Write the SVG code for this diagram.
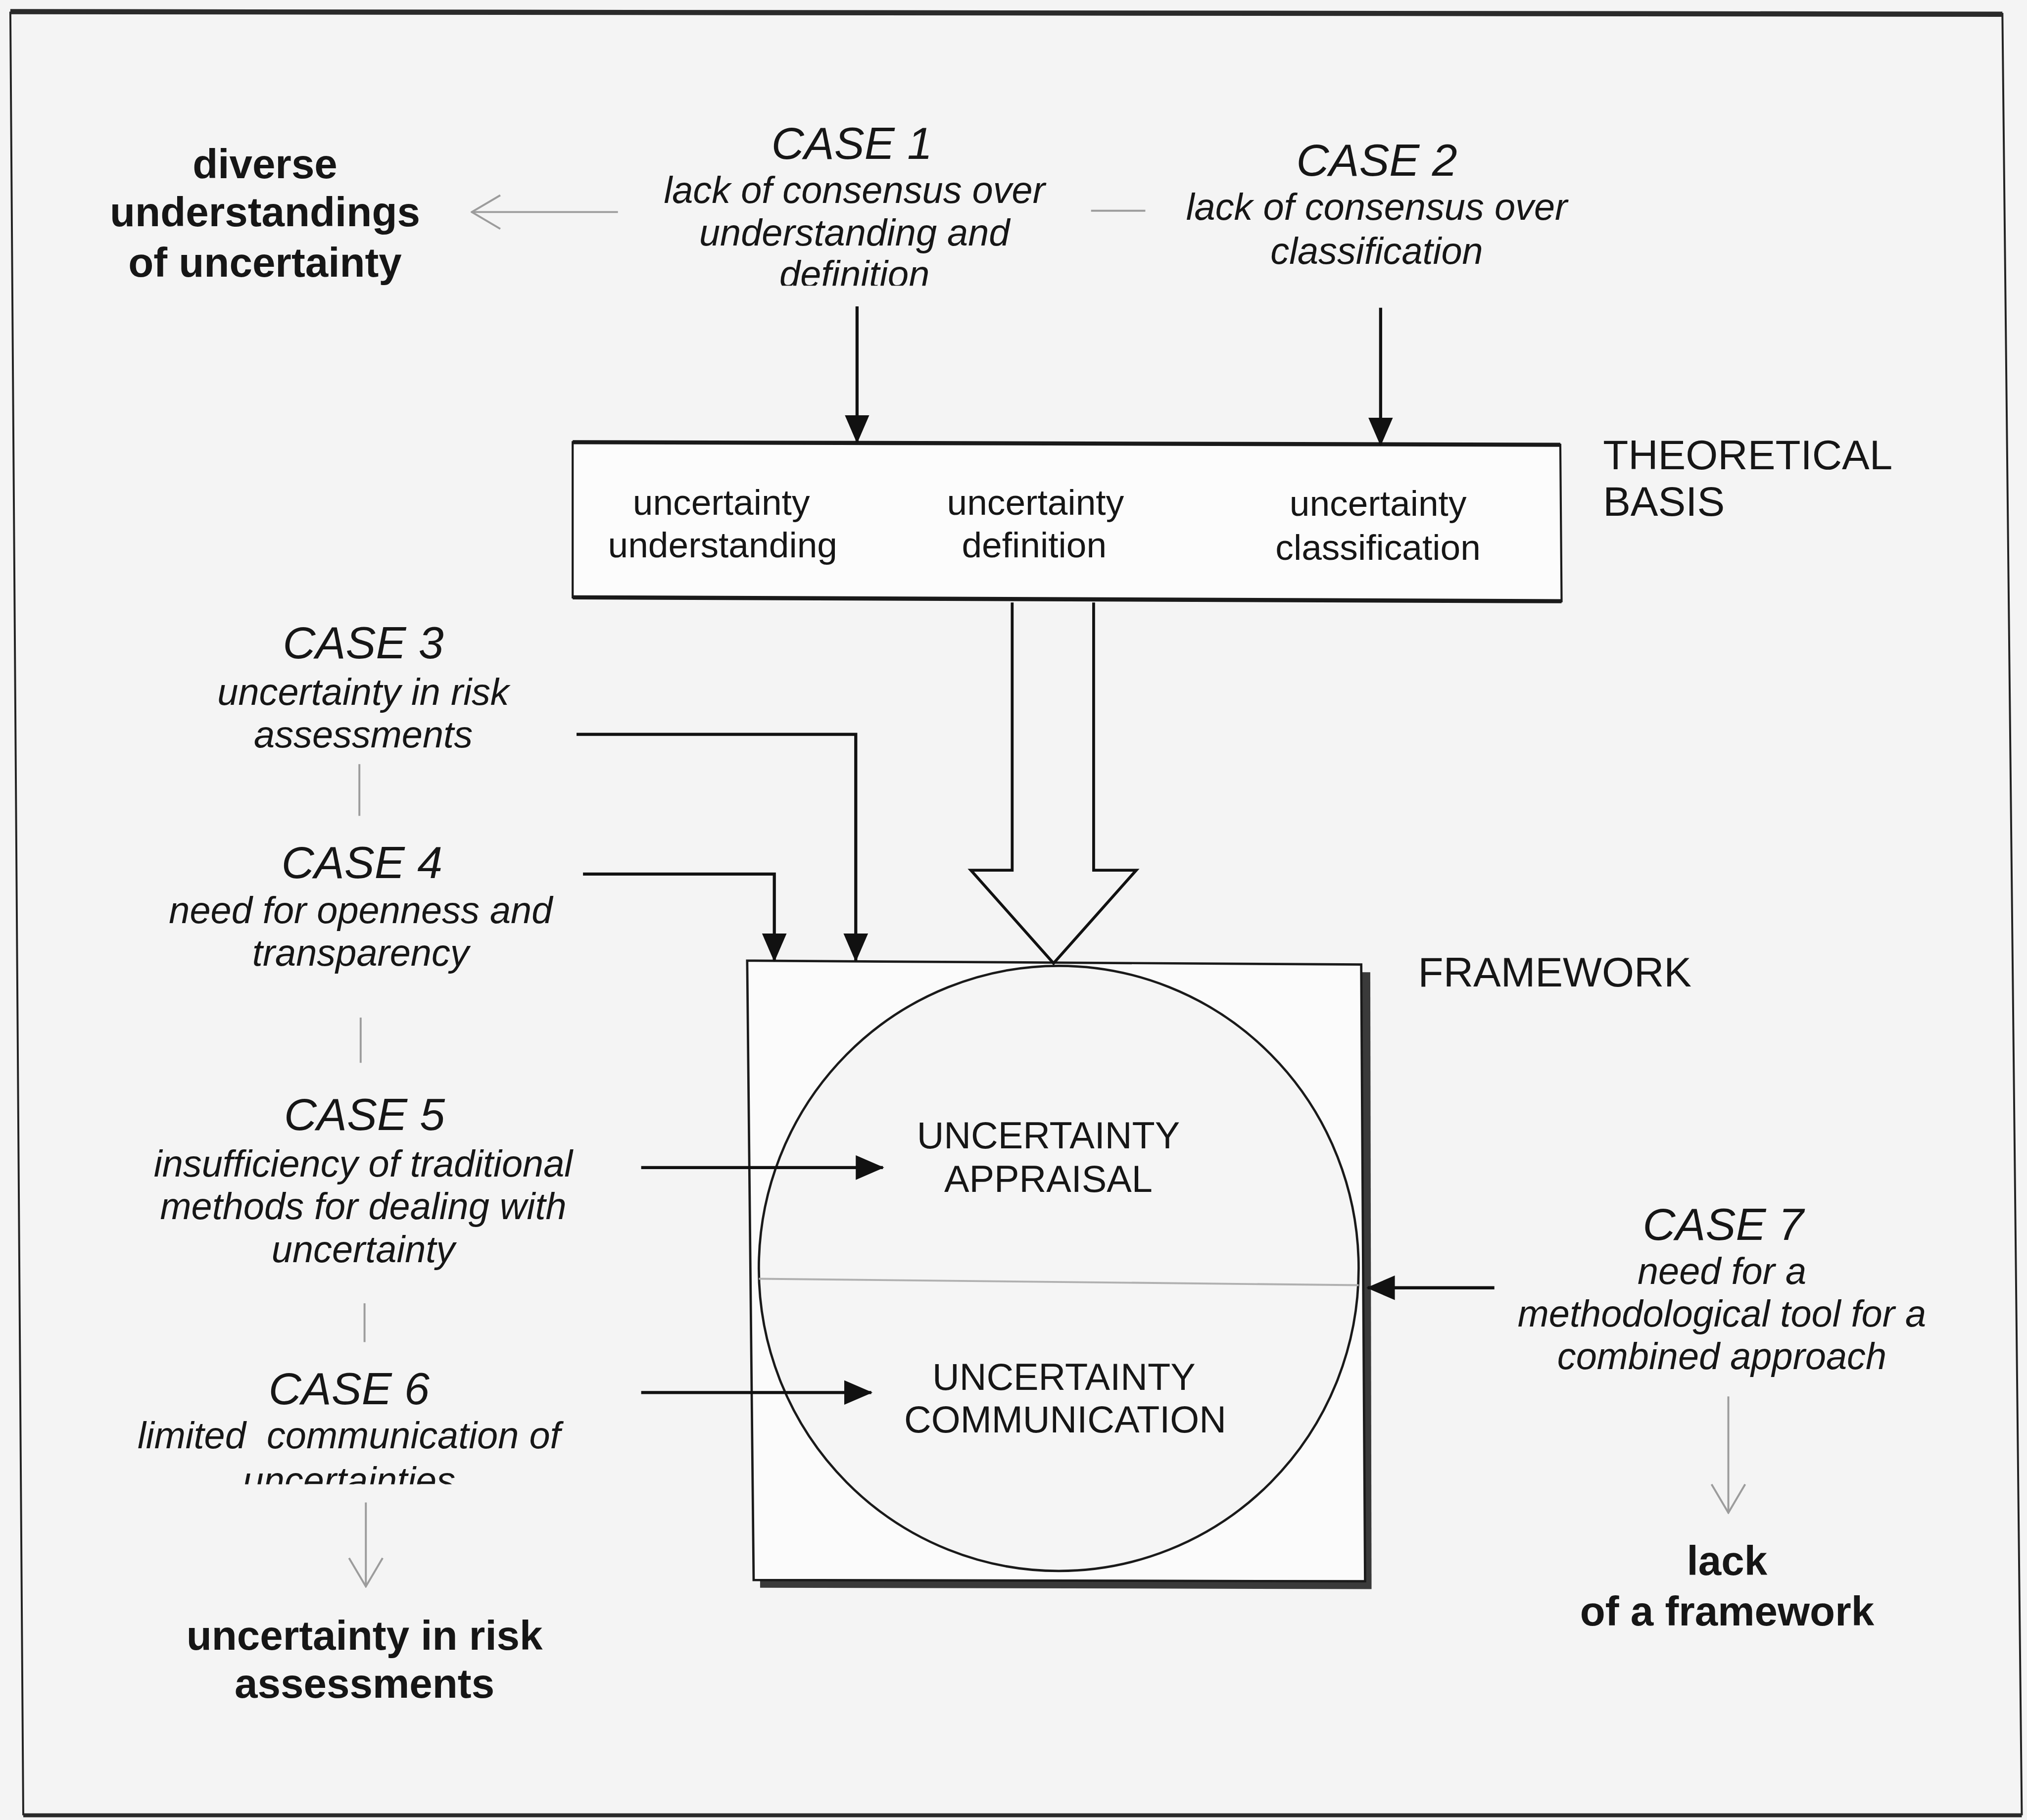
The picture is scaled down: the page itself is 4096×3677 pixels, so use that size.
<svg xmlns="http://www.w3.org/2000/svg" width="4096" height="3677" viewBox="0 0 4096 3677">
  <style>
    text { font-family: "Liberation Sans", Arial, sans-serif; fill: #161616; text-anchor: middle; }
    .case { font-style: italic; font-size: 35px; }
    .desc { font-style: italic; font-size: 29px; }
    .out { font-weight: bold; font-size: 32px; }
    .box { font-size: 28px; }
    .lbl { font-size: 32px; text-anchor: start; }
    .core { font-size: 29px; }
    .wire { stroke: #111; stroke-width: 2.4; fill: none; }
    .faint { stroke: #9c9c9c; stroke-width: 1.5; fill: none; }
  </style>
  <defs>
    <marker id="head" markerUnits="userSpaceOnUse" viewBox="0 0 22 19" refX="21" refY="9.5" markerWidth="22" markerHeight="19" orient="auto">
      <path d="M0,0 L22,9.5 L0,19 Z" fill="#111"/>
    </marker>
    <marker id="open" markerUnits="userSpaceOnUse" viewBox="0 0 24 28" refX="23" refY="14" markerWidth="24" markerHeight="28" orient="auto">
      <path d="M1,1 L23,14 L1,27" fill="none" stroke="#9c9c9c" stroke-width="1.5"/>
    </marker>
    <clipPath id="cut-case1"><rect x="400" y="100" width="520" height="121"/></clipPath>
    <clipPath id="cut-case6"><rect x="40" y="1040" width="480" height="108"/></clipPath>
  </defs>

  <rect x="0" y="0" width="4096" height="3677" fill="#f4f4f4"/>

  <g transform="scale(2.6122)">
    <!-- outer frame -->
    <g id="frame">
      <path d="M8,9 L18,1404 M1549,10 L1564,1404" stroke="#222" stroke-width="1.5" fill="none"/>
      <path d="M8,9 L1549,11" stroke="#2a2a2a" stroke-width="4" fill="none"/>
      <path d="M18,1404 L1564,1404" stroke="#2a2a2a" stroke-width="3" fill="none"/>
    </g>

    <!-- outcome labels -->
    <g id="out-diverse">
      <text class="out" x="205" y="138">diverse</text>
      <text class="out" x="205" y="175">understandings</text>
      <text class="out" x="205" y="214">of uncertainty</text>
    </g>
    <g id="out-risk">
      <text class="out" x="282" y="1276">uncertainty in risk</text>
      <text class="out" x="282" y="1313">assessments</text>
    </g>
    <g id="out-framework">
      <text class="out" x="1336" y="1218">lack</text>
      <text class="out" x="1336" y="1257">of a framework</text>
    </g>

    <!-- cases -->
    <g id="case1">
      <text class="case" x="659" y="123">CASE 1</text>
      <text class="desc" x="661" y="157">lack of consensus over</text>
      <text class="desc" x="661" y="190">understanding and</text>
      <text class="desc" x="661" y="222" clip-path="url(#cut-case1)">definition</text>
    </g>
    <g id="case2">
      <text class="case" x="1065" y="136">CASE 2</text>
      <text class="desc" x="1065" y="170">lack of consensus over</text>
      <text class="desc" x="1065" y="204">classification</text>
    </g>
    <g id="case3">
      <text class="case" x="281" y="509">CASE 3</text>
      <text class="desc" x="281" y="545">uncertainty in risk</text>
      <text class="desc" x="281" y="578">assessments</text>
    </g>
    <g id="case4">
      <text class="case" x="280" y="679">CASE 4</text>
      <text class="desc" x="279" y="714">need for openness and</text>
      <text class="desc" x="279" y="747">transparency</text>
    </g>
    <g id="case5">
      <text class="case" x="282" y="874">CASE 5</text>
      <text class="desc" x="281" y="910">insufficiency of traditional</text>
      <text class="desc" x="281" y="943">methods for dealing with</text>
      <text class="desc" x="281" y="976">uncertainty</text>
    </g>
    <g id="case6">
      <text class="case" x="270" y="1086">CASE 6</text>
      <text class="desc" x="270" y="1120" xml:space="preserve">limited  communication of</text>
      <text class="desc" x="270" y="1155" clip-path="url(#cut-case6)">uncertainties</text>
    </g>
    <g id="case7">
      <text class="case" x="1333" y="959">CASE 7</text>
      <text class="desc" x="1332" y="993">need for a</text>
      <text class="desc" x="1332" y="1026">methodological tool for a</text>
      <text class="desc" x="1332" y="1059">combined approach</text>
    </g>

    <!-- theoretical basis -->
    <g id="theoretical-basis">
      <path d="M443,342 L1207,344 L1208,465 L443,462 Z" fill="#fcfcfc" stroke="#1a1a1a" stroke-width="1.6"/>
      <path d="M443,342 L1207,344 M443,462 L1208,465" stroke="#1a1a1a" stroke-width="3.2" fill="none"/>
      <text class="box" x="558" y="398">uncertainty</text>
      <text class="box" x="559" y="431">understanding</text>
      <text class="box" x="801" y="398">uncertainty</text>
      <text class="box" x="800" y="431">definition</text>
      <text class="box" x="1066" y="399">uncertainty</text>
      <text class="box" x="1066" y="433">classification</text>
      <text class="lbl" x="1240" y="363">THEORETICAL</text>
      <text class="lbl" x="1240" y="399">BASIS</text>
    </g>

    <!-- framework -->
    <g id="framework">
      <path d="M586,750 L1060,752 L1061,1229 L588,1228 Z" fill="#3a3a3a"/>
      <path d="M578,743 L1053,746 L1056,1223 L583,1222 Z" fill="#fbfbfb" stroke="#1a1a1a" stroke-width="1.8"/>
      <ellipse cx="819" cy="981" rx="232" ry="234" fill="#f5f5f5" stroke="#1a1a1a" stroke-width="1.8"/>
      <path d="M587,989 L1051,994" stroke="#b0b0b0" stroke-width="1.5" fill="none"/>
      <text class="core" x="811" y="888">UNCERTAINTY</text>
      <text class="core" x="811" y="922">APPRAISAL</text>
      <text class="core" x="823" y="1075">UNCERTAINTY</text>
      <text class="core" x="824" y="1108">COMMUNICATION</text>
      <text class="lbl" x="1097" y="763">FRAMEWORK</text>
    </g>

    <!-- connectors, drawn over the boxes -->
    <g id="connectors">
      <path class="faint" d="M478,164 L365,164" marker-end="url(#open)"/>
      <path class="faint" d="M844,163 L886,163"/>
      <path class="wire" d="M663,237 L663,342" marker-end="url(#head)"/>
      <path class="wire" d="M1068,238 L1068,344" marker-end="url(#head)"/>
      <path d="M783,466 L783,673 L751,673 L815,745 L879,673 L846,673 L846,466" fill="none" stroke="#111" stroke-width="2.2" stroke-linejoin="miter"/>
      <path class="wire" d="M446,568 L662,568 L662,743" marker-end="url(#head)"/>
      <path class="wire" d="M451,676 L599,676 L599,743" marker-end="url(#head)"/>
      <path class="wire" d="M496,903 L683,903" marker-end="url(#head)"/>
      <path class="wire" d="M496,1077 L674,1077" marker-end="url(#head)"/>
      <path class="wire" d="M1156,996 L1058,996" marker-end="url(#head)"/>
      <path class="faint" d="M278,591 L278,631"/>
      <path class="faint" d="M279,787 L279,822"/>
      <path class="faint" d="M282,1008 L282,1038"/>
      <path class="faint" d="M283,1162 L283,1227" marker-end="url(#open)"/>
      <path class="faint" d="M1337,1080 L1337,1170" marker-end="url(#open)"/>
    </g>
  </g>
</svg>
